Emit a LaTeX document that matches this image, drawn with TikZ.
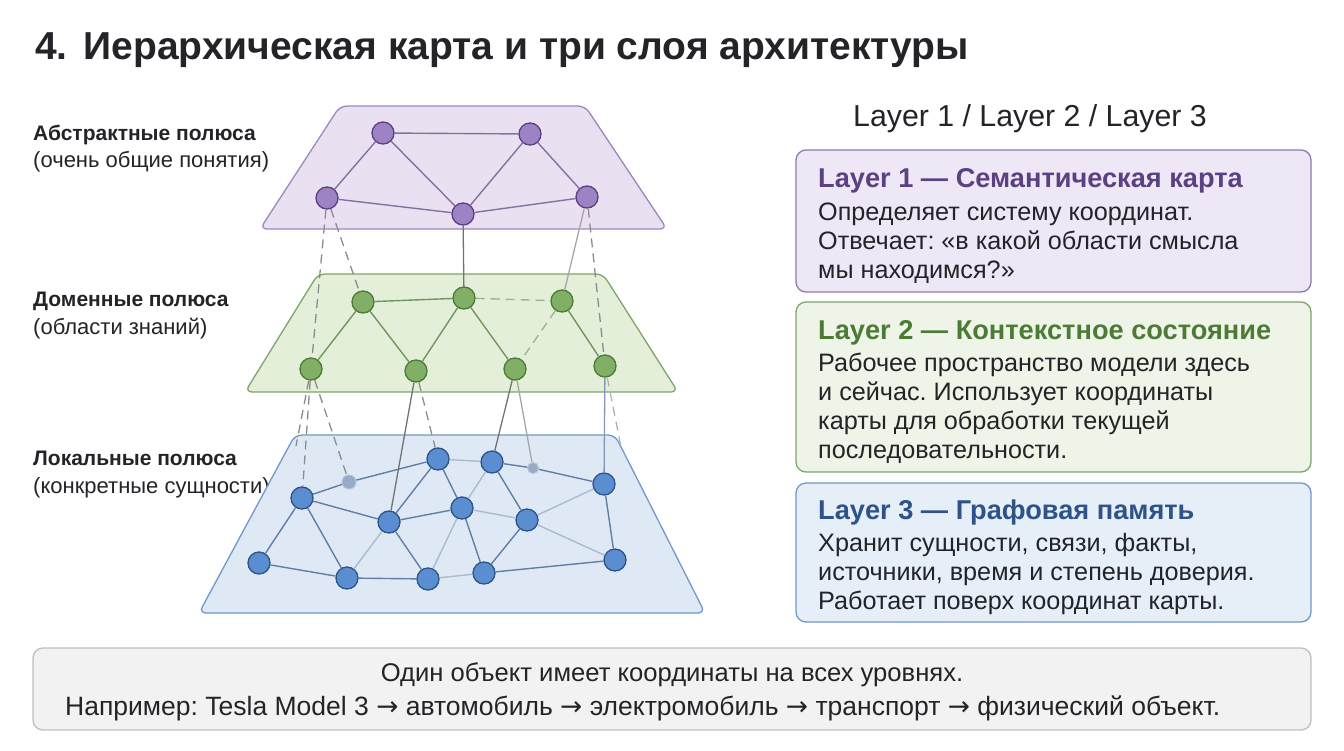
\documentclass[tikz,border=0pt]{standalone}
\usepackage{fontspec}
\setmainfont{Liberation Sans}
\newfontfamily\arrowfont{DejaVu Sans}
\newcommand\nextarr{{\arrowfont →}}
\usetikzlibrary{positioning}
\definecolor{purfill}{HTML}{E9E1F1}
\definecolor{purline}{HTML}{9C88BE}
\definecolor{purnode}{HTML}{9D83C3}
\definecolor{purdark}{HTML}{5C4182}
\definecolor{purcard}{HTML}{EEE7F6}
\definecolor{grnfill}{HTML}{E4EFDA}
\definecolor{grnline}{HTML}{7EA568}
\definecolor{grnnode}{HTML}{80AF65}
\definecolor{grndark}{HTML}{4D7A35}
\definecolor{grncard}{HTML}{EEF5E8}
\definecolor{blufill}{HTML}{DFE9F6}
\definecolor{bluline}{HTML}{7098CA}
\definecolor{blunode}{HTML}{5B8ED0}
\definecolor{bludark}{HTML}{2D5388}
\definecolor{blucard}{HTML}{E6EEF8}
\definecolor{inkdark}{HTML}{222428}
\frenchspacing
\begin{document}
\begin{tikzpicture}[x=1pt, y=-1pt,
  pole/.style={circle, draw, line width=1.3pt, minimum size=22pt, inner sep=0pt},
  abst/.style={pole, fill=purnode, draw=purdark},
  dom/.style={pole, fill=grnnode, draw=grndark},
  loc/.style={pole, fill=blunode, draw=bludark},
  faint/.style={circle, inner sep=0pt, fill=blunode!55!gray!70, draw=bludark!35, line width=1pt},
  plane/.style={rounded corners=7pt, line width=1.3pt},
  plink/.style={draw=purdark!75, line width=1.4pt},
  glink/.style={draw=grndark!80, line width=1.4pt},
  blink/.style={draw=bludark!75, line width=1.4pt},
  blite/.style={draw=bludark!40, line width=1.4pt},
  vlink/.style={draw=black!55, line width=1.3pt},
  vlite/.style={draw=black!35, line width=1.3pt},
  vdash/.style={draw=black!45, line width=1.3pt, dash pattern=on 9pt off 6pt},
  card/.style={rounded corners=10pt, line width=1.3pt},
  lbl/.style={anchor=base west, inner sep=0pt, font=\fontsize{22}{26}\selectfont, text=inkdark},
  lblb/.style={lbl, font=\bfseries\fontsize{21}{26}\selectfont},
  hd/.style={anchor=base west, inner sep=0pt, font=\bfseries\fontsize{27.2}{32}\selectfont},
  body/.style={anchor=base west, inner sep=0pt, align=left, font=\fontsize{25.2}{29}\selectfont, text=inkdark}
]
\useasboundingbox[fill=white] (0,0) rectangle (1344,750);

\node[anchor=base west, inner sep=0pt, font=\bfseries\fontsize{39}{46}\selectfont, text=inkdark] (title) at (35,59) {4.\hspace{16pt}Иерархическая карта и три слоя архитектуры};

\node[lblb] (l1a) at (33,140) {Абстрактные полюса};
\node[lbl] (l1b) at (33,167) {(очень общие понятия)};
\node[lblb] (l2a) at (33,306) {Доменные полюса};
\node[lbl] (l2b) at (33,334) {(области знаний)};
\node[lblb] (l3a) at (33,465) {Локальные полюса};
\node[lbl] (l3b) at (33,493) {(конкретные сущности)};

\draw[plane, fill=blufill, draw=bluline] (295,435) -- (615,435) -- (705,613) -- (199,613) -- cycle;
\draw[plane, fill=grnfill, draw=grnline] (318,274) -- (603,274) -- (678,392) -- (245,392) -- cycle;
\draw[plane, fill=purfill, draw=purline] (340,106) -- (585,106) -- (667,229) -- (260,229) -- cycle;

\node[abst] (a1) at (383,133) {};
\node[abst] (a2) at (530,134) {};
\node[abst] (a3) at (327,198) {};
\node[abst] (a4) at (463,214) {};
\node[abst] (a5) at (587,197) {};

\node[dom] (d1) at (363,302) {};
\node[dom] (d2) at (464,298) {};
\node[dom] (d3) at (562,301) {};
\node[dom] (d4) at (311,369) {};
\node[dom] (d5) at (416,371) {};
\node[dom] (d6) at (515,369) {};
\node[dom] (d7) at (605,366) {};

\node[loc] (b1) at (302,498) {};
\node[faint, minimum size=14pt] (b2) at (349,482) {};
\node[loc] (b3) at (438,459) {};
\node[loc] (b4) at (492,462) {};
\node[faint, minimum size=11pt] (b5) at (533,468) {};
\node[loc] (b6) at (604,484) {};
\node[loc] (b7) at (389,522) {};
\node[loc] (b8) at (462,508) {};
\node[loc] (b9) at (527,520) {};
\node[loc] (b10) at (259,563) {};
\node[loc] (b11) at (347,578) {};
\node[loc] (b12) at (428,579) {};
\node[loc] (b13) at (484,573) {};
\node[loc] (b14) at (615,560) {};

\coordinate (lc) at (296,446);
\coordinate (rc) at (621,447);

\draw[plink] (a1) -- (a2);
\draw[plink] (a1) -- (a3);
\draw[plink] (a1) -- (a4);
\draw[plink] (a2) -- (a4);
\draw[plink] (a2) -- (a5);
\draw[plink] (a3) -- (a4);
\draw[plink] (a4) -- (a5);

\draw[glink] (d1) -- (d2);
\draw[glink, dash pattern=on 9pt off 6pt, draw=grndark!55] (d2) -- (d3);
\draw[glink] (d1) -- (d4);
\draw[glink] (d1) -- (d5);
\draw[glink] (d2) -- (d5);
\draw[glink] (d2) -- (d6);
\draw[glink, dash pattern=on 9pt off 6pt, draw=grndark!55] (d3) -- (d6);
\draw[glink] (d3) -- (d7);

\draw[blink] (b10) -- (b1);
\draw[blink] (b10) -- (b11);
\draw[blink] (b1) -- (b11);
\draw[blink] (b1) -- (b2);
\draw[blink] (b2) -- (b3);
\draw[blink] (b1) -- (b7);
\draw[blink] (b3) -- (b7);
\draw[blink] (b3) -- (b8);
\draw[blite] (b3) -- (b4);
\draw[blite] (b4) -- (b8);
\draw[blink] (b4) -- (b9);
\draw[blink] (b4) -- (b5);
\draw[blink] (b5) -- (b6);
\draw[blite] (b6) -- (b9);
\draw[blink] (b6) -- (b14);
\draw[blink] (b7) -- (b8);
\draw[blite] (b7) -- (b11);
\draw[blink] (b7) -- (b12);
\draw[blite] (b8) -- (b9);
\draw[blite] (b8) -- (b12);
\draw[blink] (b8) -- (b13);
\draw[blink] (b9) -- (b13);
\draw[blite] (b9) -- (b14);
\draw[blink] (b11) -- (b12);
\draw[blite] (b12) -- (b13);
\draw[blink] (b13) -- (b14);

\draw[vdash] (a3) -- (d4);
\draw[vdash] (a3) -- (d1);
\draw[vlink] (a4) -- (d2);
\draw[vlite] (a5) -- (d3);
\draw[vdash] (a5) -- (d7);
\draw[vdash] (d4) -- (lc);
\draw[vdash] (d4) -- (b1);
\draw[vdash] (d4) -- (b2);
\draw[vlink] (d5) -- (b7);
\draw[vdash] (d5) -- (b3);
\draw[vlink] (d6) -- (b4);
\draw[vlite] (d6) -- (b5);
\draw[vlink, draw=bludark!60] (d7) -- (b6);
\draw[vdash, draw=black!30] (d7) -- (rc);

\node[font=\fontsize{30.3}{36}\selectfont, text=inkdark] (head) at (1030,119) {Layer 1 / Layer 2 / Layer 3};

\draw[card, fill=purcard, draw=purdark!70] (796,150) rectangle (1311,292);
\node[hd, text=purdark] (c1t) at (818,187) {Layer 1 — Семантическая карта};
\node[body] (c1b) at (818,278) {Определяет систему координат.\\Отвечает: «в какой области смысла\\мы находимся?»};

\draw[card, fill=grncard, draw=grnline] (796,302) rectangle (1311,472);
\node[hd, text=grndark] (c2t) at (818,339) {Layer 2 — Контекстное состояние};
\node[body] (c2b) at (818,458) {Рабочее пространство модели здесь\\и сейчас. Использует координаты\\карты для обработки текущей\\последовательности.};

\draw[card, fill=blucard, draw=bluline] (796,483) rectangle (1311,622);
\node[hd, text=bludark] (c3t) at (818,519) {Layer 3 — Графовая память};
\node[body] (c3b) at (818,609) {Хранит сущности, связи, факты,\\источники, время и степень доверия.\\Работает поверх координат карты.};

\draw[card, fill=black!5, draw=black!25] (33,648) rectangle (1311,730);
\node[anchor=base, inner sep=0pt, font=\fontsize{25.6}{34}\selectfont, text=inkdark] (note1) at (672,681) {Один объект имеет координаты на всех уровнях.};
\node[anchor=base west, inner sep=0pt, font=\fontsize{26.5}{34}\selectfont, text=inkdark] (note2) at (65,715) {Например: Tesla Model 3 \nextarr{} автомобиль \nextarr{} электромобиль \nextarr{} транспорт \nextarr{} физический объект.};
\end{tikzpicture}
\end{document}
